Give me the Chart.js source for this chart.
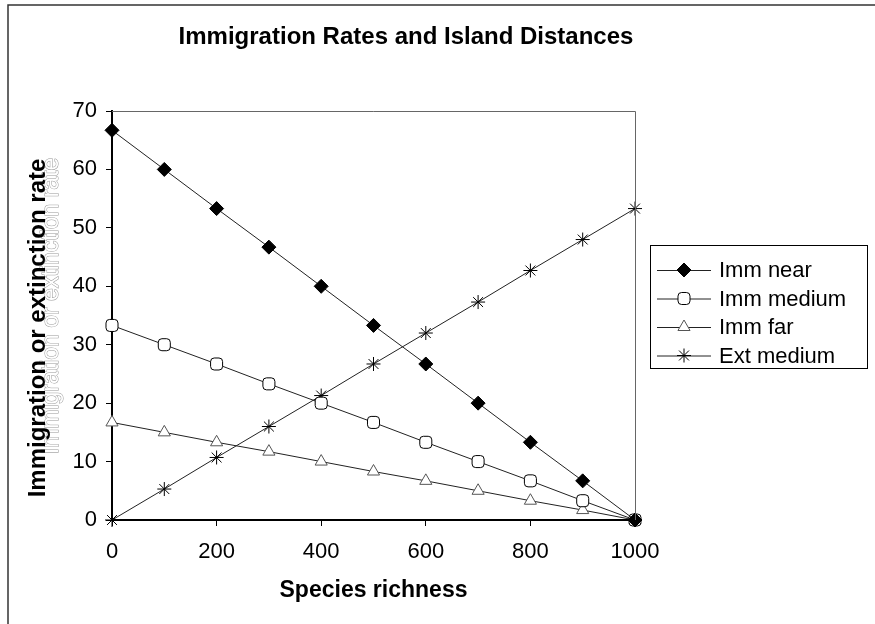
<!DOCTYPE html>
<html>
<head>
<meta charset="utf-8">
<script src="https://cdn.jsdelivr.net/npm/chart.js@4.4.1/dist/chart.umd.min.js"></script>
<style>
  body { margin: 0; background: #fff; }
  #wrap { width: 875px; height: 624px; }
</style>
</head>
<body>
<div id="wrap"><canvas id="chart" width="875" height="624"></canvas></div>
<script>
// species richness (x)
const richness = [0, 100, 200, 300, 400, 500, 600, 700, 800, 900, 1000];
// rates
const immNear = [66.7, 60, 53.3, 46.7, 40, 33.3, 26.7, 20, 13.3, 6.7, 0];
const immMedium = [33.3, 30, 26.7, 23.3, 20, 16.7, 13.3, 10, 6.7, 3.3, 0];
const immFar = [16.7, 15, 13.3, 11.7, 10, 8.3, 6.7, 5, 3.3, 1.7, 0];
const extMedium = [0, 5.3, 10.7, 16, 21.3, 26.7, 32, 37.3, 42.7, 48, 53.3];
const seriesNames = ["Imm near", "Imm medium", "Imm far", "Ext medium"];

const titleText = "Immigration Rates and Island Distances";
const xTitle = "Species richness";
const yTitle = "Immigration or extinction rate";

const FONT = "'Liberation Sans', Arial, Helvetica, sans-serif";

function pts(ys) {
    return richness.map((x, i) => ({ x: x, y: ys[i] }));
}

const styles = [
    { pointStyle: "rectRot", pointRadius: 7, pointBackgroundColor: "#000", pointBorderColor: "#000" },
    { pointStyle: "rectRounded", pointRadius: 7, pointBackgroundColor: "#fff", pointBorderColor: "#000" },
    { pointStyle: "triangle", pointRadius: 7, pointBackgroundColor: "#fff", pointBorderColor: "#555" },
    { pointStyle: "star", pointRadius: 7, pointBackgroundColor: "#000", pointBorderColor: "#000" }
];
const allData = [immNear, immMedium, immFar, extMedium];

const datasets = allData.map((d, i) => Object.assign({
    label: seriesNames[i],
    data: pts(d),
    borderColor: "#222",
    borderWidth: 1,
    pointBorderWidth: 1,
    clip: false,
    tension: 0
}, styles[i]));

// texts, frame, plot box and legend
const decor = {
    id: "decor",
    beforeDraw(chart) {
        const ctx = chart.ctx;
        ctx.save();
        ctx.fillStyle = "#fff";
        ctx.fillRect(0, 0, chart.width, chart.height);
        ctx.strokeStyle = "#333";
        ctx.lineWidth = 1.5;
        ctx.beginPath();
        ctx.moveTo(8, chart.height);
        ctx.lineTo(8, 5);
        ctx.lineTo(chart.width, 5);
        ctx.stroke();
        ctx.restore();
    },
    afterDraw(chart) {
        const ctx = chart.ctx;
        const a = chart.chartArea;
        ctx.save();
        // plot box top / right
        ctx.strokeStyle = "#666";
        ctx.lineWidth = 1;
        ctx.beginPath();
        ctx.moveTo(a.left, a.top + 0.5);
        ctx.lineTo(a.right + 0.5, a.top + 0.5);
        ctx.lineTo(a.right + 0.5, a.bottom);
        ctx.stroke();

        ctx.fillStyle = "#000";
        ctx.textAlign = "center";
        ctx.textBaseline = "middle";
        ctx.font = "bold 24px " + FONT;
        ctx.fillText(titleText, 406, 37);

        ctx.font = "bold 23px " + FONT;
        ctx.fillText(xTitle, (a.left + a.right) / 2, 591);

        // y title, with its faint ghost copy
        ctx.save();
        ctx.translate(52, 306);
        ctx.rotate(-Math.PI / 2);
        ctx.font = "23px " + FONT;
        ctx.strokeStyle = "#999";
        ctx.lineWidth = 1;
        ctx.strokeText(yTitle, 0, 0);
        ctx.fillStyle = "#fff";
        ctx.fillText(yTitle, 0, 0);
        ctx.restore();
        ctx.save();
        ctx.translate(38, 328);
        ctx.rotate(-Math.PI / 2);
        ctx.fillStyle = "#000";
        ctx.font = "bold 24px " + FONT;
        ctx.fillText(yTitle, 0, 0);
        ctx.restore();

        // legend
        ctx.strokeStyle = "#000";
        ctx.lineWidth = 1;
        ctx.strokeRect(650.5, 245.5, 217, 123);
        ctx.font = "22px " + FONT;
        ctx.textAlign = "left";
        chart.data.datasets.forEach((ds, i) => {
            const y = 270 + i * 28.5;
            ctx.strokeStyle = ds.borderColor;
            ctx.lineWidth = 1;
            ctx.beginPath();
            ctx.moveTo(657, y + 0.5);
            ctx.lineTo(711, y + 0.5);
            ctx.stroke();
            if (Chart.helpers && Chart.helpers.drawPoint) {
                ctx.fillStyle = ds.pointBackgroundColor;
                ctx.strokeStyle = ds.pointBorderColor;
                ctx.lineWidth = 1;
                Chart.helpers.drawPoint(ctx, { pointStyle: ds.pointStyle, radius: ds.pointRadius, rotation: 0, borderWidth: 1 }, 684, y);
            }
            ctx.fillStyle = "#000";
            ctx.fillText(ds.label, 719, y + 1);
        });
        ctx.restore();
    }
};

new Chart(document.getElementById("chart"), {
    type: "line",
    data: { datasets: datasets },
    options: {
        responsive: false,
        animation: false,
        layout: { padding: { top: 111, right: 240, left: 0, bottom: 0 } },
        plugins: { legend: { display: false }, title: { display: false }, tooltip: { enabled: false } },
        scales: {
            x: {
                type: "linear",
                min: 0,
                max: 1000,
                afterFit(s) { s.height = 104; },
                border: { display: true, color: "#000", width: 2 },
                grid: { display: true, drawOnChartArea: false, drawTicks: true, tickLength: 6, color: "#000" },
                ticks: {
                    stepSize: 200, color: "#000", padding: 13, maxRotation: 0,
                    font: { family: FONT, size: 22 },
                    callback: (v) => String(v)
                }
            },
            y: {
                min: 0,
                max: 70,
                afterFit(s) { s.width = 112; },
                border: { display: true, color: "#000", width: 2 },
                grid: { display: true, drawOnChartArea: false, drawTicks: true, tickLength: 6, color: "#000" },
                ticks: { stepSize: 10, color: "#000", padding: 9, font: { family: FONT, size: 22 } }
            }
        }
    },
    plugins: [decor]
});
</script>
</body>
</html>
